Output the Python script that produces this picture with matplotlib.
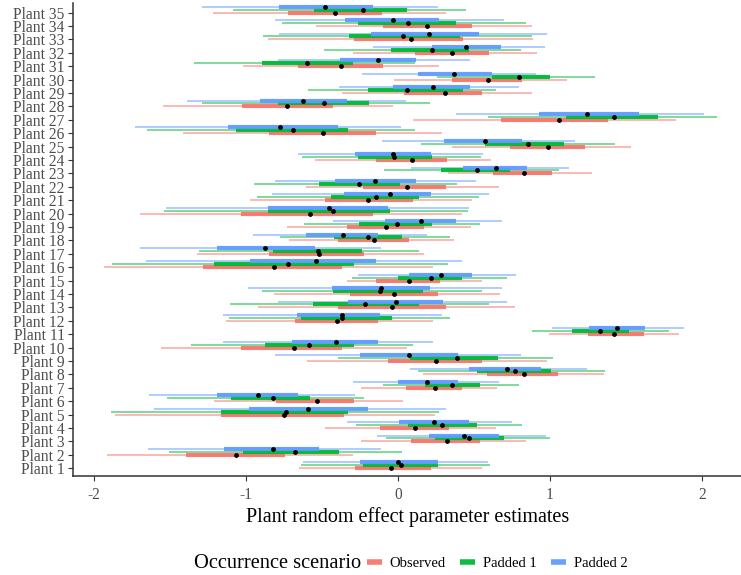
import matplotlib
matplotlib.use("Agg")
import matplotlib.pyplot as plt
from matplotlib.lines import Line2D
import numpy as np

plt.rcParams["font.family"] = ["Liberation Serif", "DejaVu Serif"]

plants = [f"Plant {i}" for i in range(1, 36)]
scenarios = ["Observed", "Padded 1", "Padded 2"]
colors = ["#F8766D", "#00BA38", "#619CFF"]

# ---- Observed ----
obs_lo95 = [-0.649, -1.917, -0.243, -0.480, -1.862, -1.211, -0.243, 0.167, -0.601, -1.559,
            0.993, -1.132, -0.919, -0.816, -0.337, -1.934, -1.320, -0.715, -0.732, -1.697,
            -0.974, -0.607, 0.331, -0.546, 0.357, -1.412, 0.097, -1.548, -0.371, -0.024,
            -1.018, -0.294, -0.857, -0.539, -1.217]
obs_lo66 = [-0.283, -1.395, 0.086, -0.118, -1.164, -0.803, 0.053, 0.583, -0.064, -1.035,
            1.248, -0.678, -0.393, -0.316, -0.145, -1.281, -0.851, -0.393, -0.338, -1.031,
            -0.480, -0.228, 0.627, -0.145, 0.737, -0.851, 0.678, -1.024, 0.039, 0.357,
            -0.656, 0.112, -0.289, -0.097, -0.724]
obs_est = [-0.048, -1.068, 0.320, 0.112, -0.748, -0.535, 0.243, 0.831, 0.250, -0.682,
           1.423, -0.399, -0.037, -0.024, 0.072, -0.816, -0.520, -0.158, -0.079, -0.577,
           -0.199, 0.057, 0.829, 0.090, 0.989, -0.491, 1.061, -0.732, 0.311, 0.590,
           -0.377, 0.353, 0.083, 0.193, -0.414]
obs_hi66 = [0.217, -0.743, 0.539, 0.338, -0.353, -0.289, 0.419, 1.051, 0.551, -0.370,
            1.618, -0.130, 0.314, 0.265, 0.276, -0.370, -0.222, 0.072, 0.173, -0.166,
            0.101, 0.316, 1.011, 0.320, 1.230, -0.145, 1.384, -0.430, 0.551, 0.814,
            -0.101, 0.600, 0.426, 0.489, -0.107]
obs_hi95 = [0.551, -0.294, 0.840, 0.645, 0.243, 0.035, 0.649, 1.357, 0.982, 0.057,
            1.851, 0.232, 0.770, 0.671, 0.555, 0.228, 0.173, 0.368, 0.480, 0.423,
            0.485, 0.666, 1.274, 0.612, 1.531, 0.291, 1.829, -0.031, 0.880, 1.110,
            0.270, 0.912, 0.888, 0.884, 0.314]

# ---- Padded 1 ----
p1_lo95 = [-0.638, -1.507, -0.081, -0.276, -1.888, -1.518, -0.096, 0.134, -0.397, -1.364,
           0.880, -1.112, -1.105, -0.897, -0.304, -1.880, -1.307, -0.776, -0.618, -1.539,
           -0.930, -0.945, -0.092, -0.633, 0.151, -1.651, 0.590, -1.287, -0.590, 0.254,
           -1.340, -0.487, -0.886, -0.765, -1.086]
p1_lo66 = [-0.232, -1.022, 0.243, 0.064, -1.164, -1.101, 0.178, 0.522, 0.079, -0.875,
           1.143, -0.638, -0.557, -0.426, 0.002, -1.211, -0.824, -0.419, -0.254, -0.857,
           -0.441, -0.518, 0.283, -0.261, 0.572, -1.066, 1.103, -0.792, -0.195, 0.616,
           -0.893, -0.048, -0.320, -0.261, -0.553]
p1_est = [0.020, -0.678, 0.469, 0.292, -0.739, -0.820, 0.353, 0.772, 0.386, -0.583,
          1.329, -0.370, -0.215, -0.118, 0.217, -0.722, -0.524, -0.199, -0.007, -0.426,
          -0.145, -0.257, 0.520, -0.024, 0.853, -0.693, 1.421, -0.487, 0.061, 0.796,
          -0.599, 0.222, 0.035, 0.064, -0.232]
p1_hi66 = [0.265, -0.386, 0.697, 0.518, -0.331, -0.579, 0.539, 1.007, 0.656, -0.288,
           1.520, -0.041, 0.138, 0.167, 0.419, -0.289, -0.239, 0.024, 0.222, -0.053,
           0.140, 0.013, 0.737, 0.222, 1.094, -0.331, 1.709, -0.191, 0.428, 0.998,
           -0.294, 0.469, 0.408, 0.384, 0.057]
p1_hi95 = [0.605, 0.024, 1.000, 0.818, 0.270, -0.222, 0.796, 1.362, 1.017, 0.097,
           1.785, 0.342, 0.601, 0.555, 0.715, 0.327, 0.140, 0.342, 0.539, 0.462,
           0.535, 0.386, 1.059, 0.544, 1.428, 0.110, 2.096, 0.211, 0.645, 1.297,
           0.112, 0.809, 0.880, 0.840, 0.445]

# ---- Padded 2 ----
p2_lo95 = [-0.623, -1.647, -0.136, -0.338, -1.602, -1.638, -0.294, 0.079, -0.809, -1.149,
           1.011, -1.149, -0.791, -0.989, -0.261, -1.658, -1.697, -0.952, -0.425, -1.526,
           -0.831, -0.809, 0.086, -0.660, -0.102, -1.730, 0.382, -1.390, -0.387, -0.238,
           -0.787, -0.162, -0.781, -0.809, -1.291]
p2_lo66 = [-0.250, -1.143, 0.206, 0.007, -0.980, -1.193, 0.002, 0.467, -0.250, -0.699,
           1.259, -0.667, -0.327, -0.436, 0.074, -0.974, -1.193, -0.605, -0.086, -0.857,
           -0.353, -0.414, 0.425, -0.283, 0.305, -1.120, 0.928, -0.910, -0.031, 0.134,
           -0.382, 0.222, -0.178, -0.349, -0.781]
p2_est = [0.002, -0.820, 0.436, 0.239, -0.594, -0.919, 0.193, 0.715, 0.072, -0.408,
          1.443, -0.371, -0.013, -0.112, 0.283, -0.539, -0.875, -0.360, 0.151, -0.454,
          -0.053, -0.151, 0.645, -0.031, 0.572, -0.778, 1.245, -0.625, 0.232, 0.371,
          -0.129, 0.445, 0.204, -0.035, -0.480]
p2_hi66 = [0.265, -0.520, 0.664, 0.469, -0.195, -0.656, 0.393, 0.941, 0.393, -0.130,
           1.625, -0.118, 0.298, 0.211, 0.489, -0.147, -0.546, -0.130, 0.382, -0.066,
           0.217, 0.116, 0.846, 0.217, 0.818, -0.396, 1.586, -0.338, 0.474, 0.617,
           0.118, 0.675, 0.533, 0.272, -0.164]
p2_hi95 = [0.590, -0.112, 0.972, 0.748, 0.314, -0.283, 0.663, 1.241, 0.807, 0.232,
           1.884, 0.287, 0.719, 0.682, 0.774, 0.419, -0.114, 0.193, 0.682, 0.469,
           0.601, 0.511, 1.125, 0.557, 1.166, 0.018, 2.015, 0.051, 0.798, 0.906,
           0.474, 0.967, 0.978, 0.699, 0.261]

series = [
    (obs_lo95, obs_lo66, obs_est, obs_hi66, obs_hi95),
    (p1_lo95, p1_lo66, p1_est, p1_hi66, p1_hi95),
    (p2_lo95, p2_lo66, p2_est, p2_hi66, p2_hi95),
]
offsets = [0.0, 0.22, 0.44]

fig = plt.figure(figsize=(7.41, 5.75), dpi=100)
ax = fig.add_axes([73.3 / 741, 99.3 / 575, 1 - 73.3 / 741, (572 - 99.3) / 575])

base = np.arange(1, len(plants) + 1)
for (lo95, lo66, est, hi66, hi95), col, off in zip(series, colors, offsets):
    y = base + off
    ax.hlines(y, lo95, hi95, color=col, lw=1.3, alpha=0.55, capstyle="butt", zorder=1)
    ax.hlines(y, lo66, hi66, color=col, lw=3.0, alpha=0.95, capstyle="butt", zorder=2)
for (lo95, lo66, est, hi66, hi95), off in zip(series, offsets):
    ax.scatter(est, base + off, s=12, color="black", zorder=4, linewidths=0)

ax.set_xlim(-2.136, 2.257)
ax.set_ylim(1 - 0.56, 35 + 0.72)
ax.set_yticks(base)
ax.set_yticklabels(plants)
ax.set_xticks([-2, -1, 0, 1, 2])
ax.set_xticklabels(["-2", "-1", "0", "1", "2"])
for s in ["top", "right"]:
    ax.spines[s].set_visible(False)
for s in ["left", "bottom"]:
    ax.spines[s].set_color("#333333")
    ax.spines[s].set_linewidth(1.1)
ax.tick_params(axis="both", colors="#333333", labelcolor="#4D4D4D", labelsize=11.2,
               length=3.6, width=0.8, pad=2.5)
ax.tick_params(axis="x", pad=4.5)
ax.set_xlabel("Plant random effect parameter estimates", fontsize=14.5, labelpad=3)

fig.text(278 / 741, 1 - 563 / 575, "Occurrence scenario", fontsize=14.7,
         ha="center", va="center")
handles = [Line2D([0], [0], color=c, lw=4, alpha=0.95, solid_capstyle="butt") for c in colors]
fig.legend(handles, scenarios, loc="center left", bbox_to_anchor=(367 / 741, 1 - 563 / 575),
           ncol=3, frameon=False, fontsize=10.5, handlelength=1.0, handletextpad=0.55,
           columnspacing=1.0, borderaxespad=0, borderpad=0)

fig.savefig("out.png", dpi=100)
